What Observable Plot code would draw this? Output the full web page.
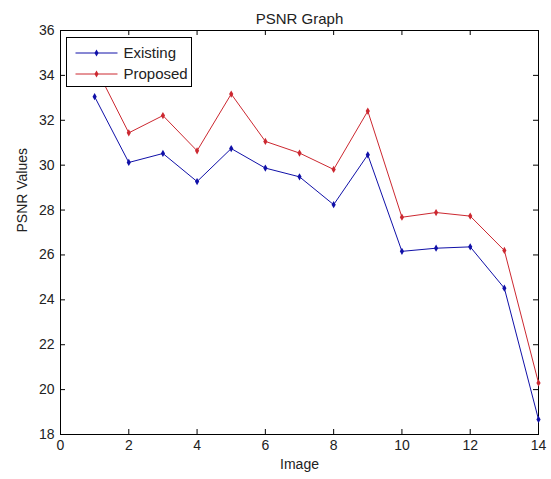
<!DOCTYPE html>
<html>
<head>
<meta charset="utf-8">
<script src="https://cdn.jsdelivr.net/npm/d3@7"></script>
<script src="https://cdn.jsdelivr.net/npm/@observablehq/plot@0.6"></script>
<style>
  html, body { margin: 0; padding: 0; background: #fff; }
  #chart { width: 551px; height: 479px; }
</style>
</head>
<body>
<div id="chart"></div>
<script>
const images = [1, 2, 3, 4, 5, 6, 7, 8, 9, 10, 11, 12, 13, 14];
const existing = [33.05, 30.12, 30.52, 29.27, 30.74, 29.87, 29.48, 28.24, 30.46, 26.16, 26.3, 26.36, 24.52, 18.67];
const proposed = [34.45, 31.44, 32.21, 30.64, 33.17, 31.06, 30.54, 29.81, 32.41, 27.68, 27.89, 27.73, 26.2, 20.3];
const xTicks = [0, 2, 4, 6, 8, 10, 12, 14];
const yTicks = [18, 20, 22, 24, 26, 28, 30, 32, 34, 36];
const seriesNames = ["Existing", "Proposed"];
const seriesColors = ["#1010a8", "#cc2830"];
const titleText = "PSNR Graph";
const xLabel = "Image";
const yLabel = "PSNR Values";

const rows = [];
images.forEach((im, i) => {
  rows.push({image: im, value: existing[i], series: seriesNames[0]});
  rows.push({image: im, value: proposed[i], series: seriesNames[1]});
});

const font = "'Liberation Sans', Arial, sans-serif";
const tickLen = 5;

const chart = Plot.plot({
  width: 551,
  height: 479,
  marginLeft: 60,
  marginRight: 13,
  marginTop: 30,
  marginBottom: 45,
  style: {fontFamily: font, fontSize: "14px", color: "#000", background: "#fff"},
  x: {domain: [0, 14], ticks: xTicks, axis: null},
  y: {domain: [18, 36], ticks: yTicks, axis: null},
  color: {domain: seriesNames, range: seriesColors},
  marks: [
    Plot.frame({stroke: "#000", strokeWidth: 1}),
    // inward ticks on all four sides
    Plot.tickX(xTicks, {x: d => d, insetTop: 404 - tickLen, stroke: "#000"}),
    Plot.tickX(xTicks, {x: d => d, insetBottom: 404 - tickLen, stroke: "#000"}),
    Plot.tickY(yTicks, {y: d => d, insetRight: 478 - tickLen, stroke: "#000"}),
    Plot.tickY(yTicks, {y: d => d, insetLeft: 478 - tickLen, stroke: "#000"}),
    Plot.axisX(xTicks, {anchor: "bottom", tickSize: 0, tickPadding: 6, label: null, fontSize: 14, fill: "#222"}),
    Plot.axisY(yTicks, {anchor: "left", tickSize: 0, tickPadding: 6, label: null, fontSize: 14, fill: "#222"}),
    Plot.line(rows, {x: "image", y: "value", stroke: "series", z: "series", strokeWidth: 1}),
    Plot.dot(rows, {x: "image", y: "value", fill: "series", r: 2.2, stroke: null, symbol: "diamond"}),
    Plot.text([titleText], {text: d => d, frameAnchor: "top", dy: -17, fontSize: 15, fill: "#222"}),
    Plot.text([xLabel], {text: d => d, frameAnchor: "bottom", dy: 34, fontSize: 14, fill: "#222"}),
    Plot.text([yLabel], {text: d => d, frameAnchor: "left", dx: -38, rotate: -90, fontSize: 14, fill: "#222"})
  ]
});

document.getElementById("chart").appendChild(chart);

// legend box (top-left inside the axes)
const svg = d3.select(chart);
const lg = svg.append("g").attr("transform", "translate(66.5,37.5)");
lg.append("rect").attr("width", 125).attr("height", 49)
  .attr("fill", "#fff").attr("stroke", "#000").attr("stroke-width", 1);
seriesNames.forEach((name, i) => {
  const yy = 15.5 + i * 21;
  lg.append("line").attr("x1", 9).attr("x2", 51).attr("y1", yy).attr("y2", yy)
    .attr("stroke", seriesColors[i]).attr("stroke-width", 1);
  lg.append("path").attr("d", d3.symbol(d3.symbolDiamond, 14)())
    .attr("transform", `translate(30,${yy})`).attr("fill", seriesColors[i]);
  lg.append("text").attr("x", 57).attr("y", yy).attr("dy", "0.35em")
    .attr("text-anchor", "start")
    .attr("font-size", 15).attr("font-family", font).attr("fill", "#222").text(name);
});
</script>
</body>
</html>
